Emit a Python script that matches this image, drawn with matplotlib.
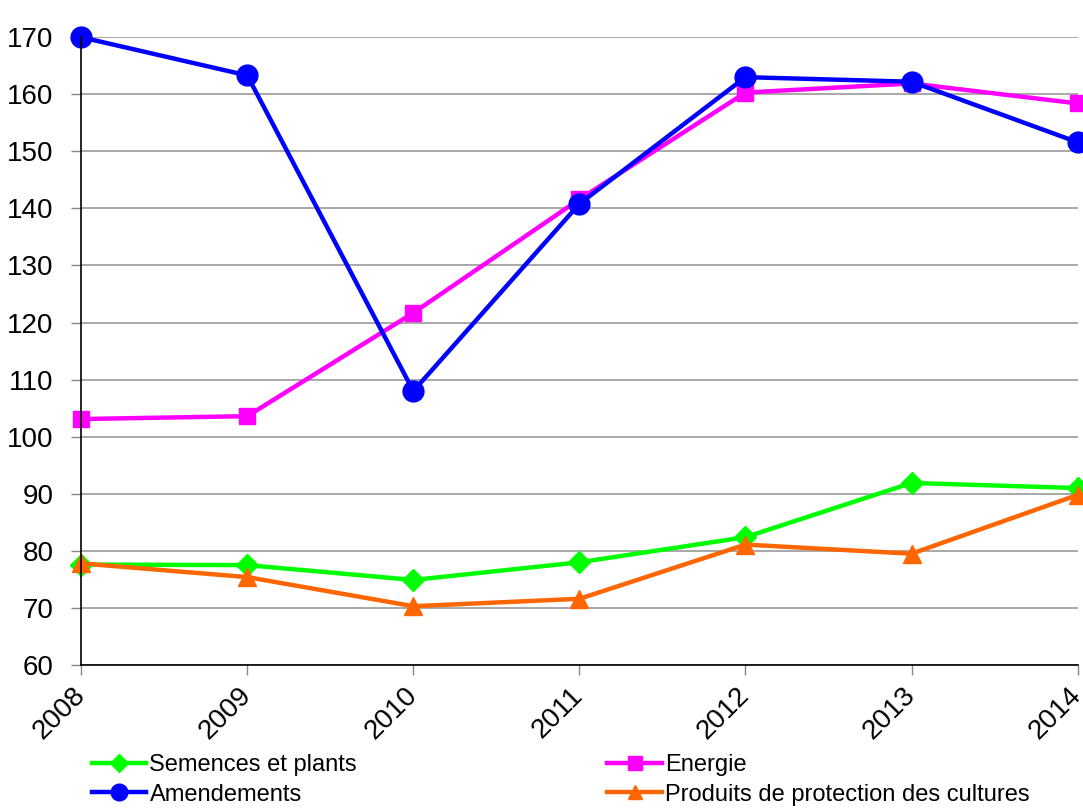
import matplotlib.pyplot as plt
import numpy as np

plt.rcParams['font.family'] = ['Liberation Sans', 'DejaVu Sans']

years = ['2008', '2009', '2010', '2011', '2012', '2013', '2014']
semences = [77.6, 77.5, 74.9, 78.0, 82.4, 91.9, 91.0]
energie = [103.1, 103.6, 121.7, 141.6, 160.3, 161.9, 158.4]
amendements = [170.0, 163.3, 108.0, 140.8, 163.0, 162.2, 151.6]
produits = [77.8, 75.4, 70.3, 71.6, 81.1, 79.5, 89.8]

x = np.arange(len(years))

fig = plt.figure(figsize=(10.83, 8.09), dpi=100)
ax = fig.add_axes([0.075, 0.178, 0.92, 0.776])

l1, = ax.plot(x, semences, color='#00ff00', lw=3.2, marker='D', ms=11, label='Semences et plants')
l2, = ax.plot(x, energie, color='#ff00ff', lw=3.2, marker='s', ms=12, label='Energie')
l3, = ax.plot(x, amendements, color='#0000ff', lw=3.2, marker='o', ms=15, label='Amendements')
l4, = ax.plot(x, produits, color='#ff6600', lw=3.2, marker='^', ms=13, label='Produits de protection des cultures')

ax.set_xlim(0, 6)
ax.set_ylim(60, 170)
ax.set_yticks(range(60, 171, 10))
ax.set_xticks(x)
ax.set_xticklabels(years, rotation=45, ha='right', va='center', rotation_mode='anchor')
ax.tick_params(axis='both', labelsize=20, length=7, color='#888888', width=1)
ax.tick_params(axis='x', pad=12)
ax.tick_params(axis='y', pad=13)
ax.yaxis.grid(True, color='#999999', lw=1.2)
ax.set_axisbelow(True)
for s in ['top', 'right']:
    ax.spines[s].set_visible(False)
for s in ['left', 'bottom']:
    ax.spines[s].set_color('black')
    ax.spines[s].set_linewidth(1.2)
for line in [l1, l2, l3, l4]:
    line.set_clip_on(False)

fig.legend([l1, l3, l2, l4],
           ['Semences et plants', 'Amendements', 'Energie', 'Produits de protection des cultures'],
           ncol=2, loc='lower left', bbox_to_anchor=(0.065, -0.022), frameon=False,
           fontsize=17, handlelength=2.3, handletextpad=0.15, columnspacing=10.6,
           labelspacing=0.32, markerscale=0.8)

fig.savefig('out.png', dpi=100)
